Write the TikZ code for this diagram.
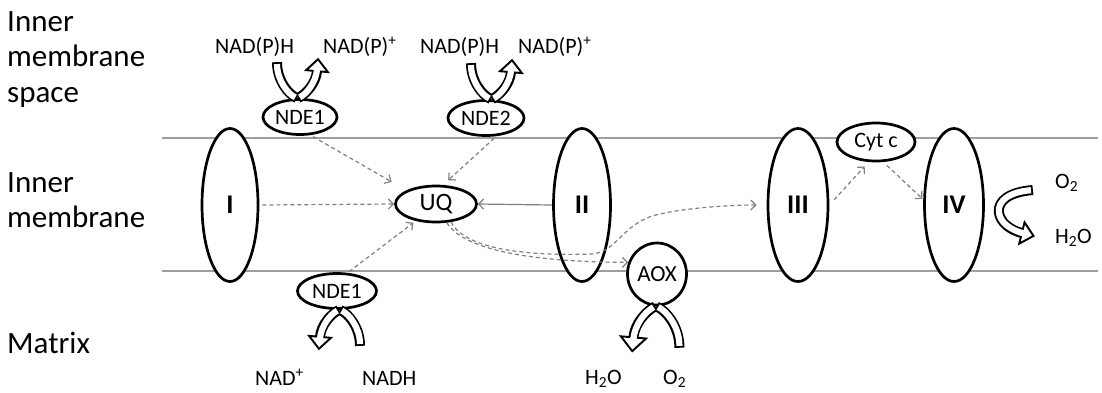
\documentclass[tikz,border=0pt]{standalone}
\usepackage{fontspec}
\setmainfont{Carlito}
\usetikzlibrary{arrows.meta,shapes.geometric}

\tikzset{
  membrane/.style={draw=black!38, line width=2.6pt},
  complex/.style={ellipse, draw, fill=white, line width=2.7pt, inner sep=0pt,
    minimum width=56pt, minimum height=153pt, font=\fontsize{27}{30}\selectfont\bfseries},
  carrier/.style={ellipse, draw, fill=white, line width=2.7pt, inner sep=0pt,
    minimum height=35pt, font=\fontsize{22}{24}\selectfont},
  dasharrow/.style={draw=black!50, line width=1.2pt, dash pattern=on 4pt off 3pt,
    -{Straight Barb[length=5pt,width=10pt]}},
  solidarrow/.style={draw=black!50, line width=1.2pt, -{Straight Barb[length=5pt,width=10pt]}},
  band/.style={line width=10pt},
  bandfill/.style={draw=white, line width=6.2pt},
  bandtip/.style={fill=white, draw=black, line width=1.9pt, line join=miter},
  region/.style={anchor=north west, align=left, inner sep=0pt, font=\fontsize{31}{35.5}\selectfont},
  chem/.style={anchor=base west, inner sep=0pt, font=\fontsize{22}{24}\selectfont},
}

% two bands meeting at a carrier: substrate in, product out
\newcommand{\cofactorloop}{%
  \draw[band] (-23,-36) .. controls (-23,-18) and (-12,-4) .. (-3,0);
  \draw[band] (-2,0) .. controls (6,-4) and (16,-15) .. (17,-27);
  \draw[bandtip, shift={(17,-27)}, rotate=85] (12,0) -- (0,11) -- (0,-11) -- cycle;
  \draw[bandfill, shorten <=1.9pt, shorten >=1.9pt] (-23,-36) .. controls (-23,-18) and (-12,-4) .. (-3,0);
  \draw[bandfill, shorten <=1.9pt, shorten >=-3pt] (-2,0) .. controls (6,-4) and (16,-15) .. (17,-27);
}

\begin{document}
\begin{tikzpicture}[x=1pt, y=-1pt]
\useasboundingbox (0,0) rectangle (1102,392);

% regions
\node[region] (ims) at (7,11) {Inner\\membrane\\space};
\node[region] (imb) at (7,172) {Inner\\membrane};
\node[region] (mtx) at (7,332) {Matrix};

% membrane
\draw[membrane] (162,138) -- (1098,138);
\draw[membrane] (162,271) -- (1098,271);

% complexes
\node[complex] (ci) at (230,205) {I};
\node[complex, minimum width=57pt] (cii) at (582,205) {II};
\node[complex, minimum width=60pt] (ciii) at (798,205) {III};
\node[complex, minimum width=59pt] (civ) at (954,205) {IV};

% carriers
\node[carrier, minimum width=74pt] (nde1t) at (300,117) {NDE1};
\node[carrier, minimum width=76pt] (nde2) at (486,118) {NDE2};
\node[carrier, minimum width=79pt] (nde1b) at (337,291) {NDE1};
\node[carrier, minimum width=81pt, minimum height=36pt, font=\fontsize{25}{28}\selectfont] (uq) at (436,204) {UQ};
\node[carrier, minimum width=78pt, minimum height=38pt] (cytc) at (876,142) {Cyt c};
\node[carrier, minimum width=59pt, minimum height=62pt, font=\fontsize{23}{26}\selectfont] (aox) at (657,274) {AOX};

% electron flow
\draw[dasharrow, shorten <=3pt, shorten >=17pt] (nde1t.-60) -- (uq.north west);
\draw[dasharrow, shorten <=3pt, shorten >=7pt] (nde2.-60) -- (uq.70);
\draw[dasharrow, shorten <=3pt] (ci.east) -- (uq.west);
\draw[dasharrow, shorten <=2pt, shorten >=3pt] (nde1b.60) -- (uq.220);
\draw[solidarrow] (cii.west) -- (uq.east);
\draw[dasharrow] (uq.-60) .. controls (465,252) and (540,262) .. (aox.158);
\draw[dasharrow, shorten >=10pt] (uq.-50) .. controls (465,250) and (530,256) .. (592,254)
  .. controls (616,252) and (622,226) .. (652,216) .. controls (680,208) and (730,205) .. (ciii.west);
\draw[dasharrow, shorten <=7pt, shorten >=6pt] (ciii.east) -- (cytc.250);
\draw[dasharrow, shorten <=5pt, shorten >=1pt] (cytc.290) -- (civ.170);

% substrates and products
\begin{scope}[shift={(nde1t.north)}]
  \cofactorloop
\end{scope}
\begin{scope}[shift={(nde2.north)}, xshift=8pt]
  \cofactorloop
\end{scope}
\begin{scope}[shift={(nde1b.south)}, rotate=180]
  \cofactorloop
\end{scope}
\begin{scope}[shift={(aox.south)}, xshift=-4pt, rotate=180, scale=1.15]
  \cofactorloop
\end{scope}
\begin{scope}[shift={(civ.east)}]
  \draw[band] (48,-15) .. controls (24,-13) and (13,-4) .. (14,7) .. controls (15,17) and (25,25) .. (37,28);
  \draw[bandtip, shift={(37,28)}, rotate=-14] (12,0) -- (0,11) -- (0,-11) -- cycle;
  \draw[bandfill, shorten <=1.9pt, shorten >=-3pt] (48,-15) .. controls (24,-13) and (13,-4) .. (14,7)
    .. controls (15,17) and (25,25) .. (37,28);
\end{scope}

\node[chem] (nadph1) at (215,53) {NAD(P)H};
\node[chem] (nadp1) at (323,53) {NAD(P)\textsuperscript{+}};
\node[chem] (nadph2) at (420,53) {NAD(P)H};
\node[chem] (nadp2) at (518,53) {NAD(P)\textsuperscript{+}};
\node[chem] (nad) at (255,385) {NAD\textsuperscript{+}};
\node[chem] (nadh) at (362,385) {NADH};
\node[chem] (waox) at (585,384) {H\textsubscript{2}O};
\node[chem] (oaox) at (663,384) {O\textsubscript{2}};
\node[chem] (oiv) at (1055,188) {O\textsubscript{2}};
\node[chem] (wiv) at (1055,243) {H\textsubscript{2}O};
\end{tikzpicture}
\end{document}
